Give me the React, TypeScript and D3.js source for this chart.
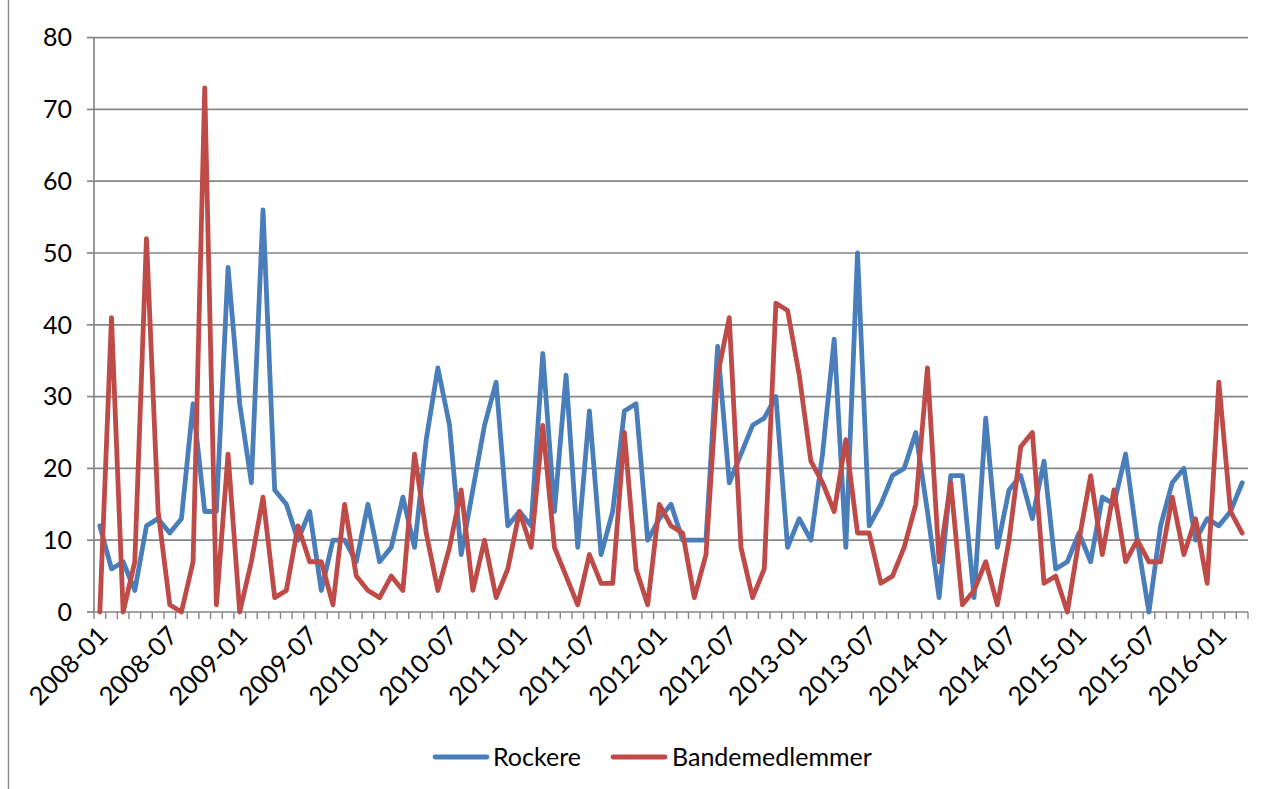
import React, { useEffect, useRef } from 'react';
import * as d3 from 'd3';

// monthly categories 2008-01 .. 2016-03
const months: string[] = d3
  .timeMonths(new Date(2008, 0, 1), new Date(2016, 3, 1))
  .map(d3.timeFormat('%Y-%m'));

const tickLabels = [
  '2008-01', '2008-07', '2009-01', '2009-07', '2010-01', '2010-07', '2011-01', '2011-07', '2012-01',
  '2012-07', '2013-01', '2013-07', '2014-01', '2014-07', '2015-01', '2015-07', '2016-01',
];

const yTicks = [0, 10, 20, 30, 40, 50, 60, 70, 80];

const rockere = [
  12, 6, 7, 3, 12, 13, 11, 13, 29, 14, 14, 48, 29, 18, 56, 17, 15, 10, 14, 3,
  10, 10, 7, 15, 7, 9, 16, 9, 24, 34, 26, 8, 17, 26, 32, 12, 14, 12, 36, 14,
  33, 9, 28, 8, 14, 28, 29, 10, 13, 15, 10, 10, 10, 37, 18, 22, 26, 27, 30, 9,
  13, 10, 22, 38, 9, 50, 12, 15, 19, 20, 25, 14, 2, 19, 19, 2, 27, 9, 17, 19,
  13, 21, 6, 7, 11, 7, 16, 15, 22, 10, 0, 12, 18, 20, 10, 13, 12, 14, 18,
];

const bandemedlemmer = [
  0, 41, 0, 7, 52, 14, 1, 0, 7, 73, 1, 22, 0, 7, 16, 2, 3, 12, 7, 7,
  1, 15, 5, 3, 2, 5, 3, 22, 11, 3, 9, 17, 3, 10, 2, 6, 14, 9, 26, 9,
  5, 1, 8, 4, 4, 25, 6, 1, 15, 12, 11, 2, 8, 33, 41, 9, 2, 6, 43, 42,
  33, 21, 18, 14, 24, 11, 11, 4, 5, 9, 15, 34, 7, 18, 1, 3, 7, 1, 10, 23,
  25, 4, 5, 0, 10, 19, 8, 17, 7, 10, 7, 7, 16, 8, 13, 4, 32, 14, 11,
];

const series = [
  { name: 'Rockere', values: rockere, color: '#4a7ebb' },
  { name: 'Bandemedlemmer', values: bandemedlemmer, color: '#be4b48' },
];

const FONT = 'Lato, "Noto Sans", sans-serif';

const App: React.FC = () => {
  const ref = useRef<SVGSVGElement>(null);

  useEffect(() => {
    const svg = d3.select(ref.current);
    svg.selectAll('*').remove();

    const left = 94, right = 1248, top = 37.6, bottom = 612;

    const x = d3.scaleBand<string>().domain(months).range([left, right]);
    const y = d3.scaleLinear().domain([0, 80]).range([bottom, top]);
    const cx = (i: number) => (x(months[i]) as number) + x.bandwidth() / 2;

    // outer frame (left edge visible)
    svg.append('line')
      .attr('x1', 8.5).attr('x2', 8.5).attr('y1', 0).attr('y2', 789)
      .attr('stroke', '#8c8c8c').attr('stroke-width', 1.5);

    // gridlines
    svg.append('g').selectAll('line')
      .data(yTicks.filter((t) => t > 0))
      .enter().append('line')
      .attr('x1', left).attr('x2', right)
      .attr('y1', (d) => y(d)).attr('y2', (d) => y(d))
      .attr('stroke', '#868686').attr('stroke-width', 1.7);

    // y axis
    const ya = svg.append('g');
    ya.append('line')
      .attr('x1', left).attr('x2', left).attr('y1', top).attr('y2', bottom)
      .attr('stroke', '#868686').attr('stroke-width', 1.7);
    ya.selectAll('line.tick')
      .data(yTicks)
      .enter().append('line')
      .attr('class', 'tick')
      .attr('x1', left - 7).attr('x2', left)
      .attr('y1', (d) => y(d)).attr('y2', (d) => y(d))
      .attr('stroke', '#868686').attr('stroke-width', 1.7);
    ya.selectAll('text')
      .data(yTicks)
      .enter().append('text')
      .attr('x', 72).attr('y', (d) => y(d))
      .attr('dy', '0.35em')
      .attr('text-anchor', 'end')
      .attr('font-family', FONT).attr('font-size', 25)
      .attr('fill', '#000')
      .text((d) => d);

    // x axis
    const xa = svg.append('g');
    xa.append('line')
      .attr('x1', left).attr('x2', right).attr('y1', bottom).attr('y2', bottom)
      .attr('stroke', '#868686').attr('stroke-width', 1.7);
    xa.selectAll('line.tick')
      .data(d3.range(months.length + 1))
      .enter().append('line')
      .attr('class', 'tick')
      .attr('x1', (i) => left + i * x.bandwidth()).attr('x2', (i) => left + i * x.bandwidth())
      .attr('y1', bottom).attr('y2', bottom + 7)
      .attr('stroke', '#868686').attr('stroke-width', 1.4);
    xa.selectAll('text')
      .data(tickLabels)
      .enter().append('text')
      .attr('transform', (d) => {
        const px = cx(months.indexOf(d)) + 3;
        const py = bottom + 19;
        return `translate(${px},${py}) rotate(-45)`;
      })
      .attr('text-anchor', 'end')
      .attr('dy', '0.35em')
      .attr('font-family', FONT).attr('font-size', 25.5)
      .attr('fill', '#000')
      .text((d) => d);

    // lines
    const line = d3.line<number>()
      .x((_, i) => cx(i))
      .y((d) => y(d));

    svg.append('g').selectAll('path')
      .data(series)
      .enter().append('path')
      .attr('d', (s) => line(s.values))
      .attr('fill', 'none')
      .attr('stroke', (s) => s.color)
      .attr('stroke-width', 4.8)
      .attr('stroke-linejoin', 'round')
      .attr('stroke-linecap', 'round');

    // legend
    const legendItems = [
      { s: series[0], x0: 435, tx: 493 },
      { s: series[1], x0: 613, tx: 672 },
    ];
    const lg = svg.append('g');
    legendItems.forEach(({ s, x0, tx }) => {
      lg.append('line')
        .attr('x1', x0).attr('x2', x0 + 52).attr('y1', 757).attr('y2', 757)
        .attr('stroke', s.color).attr('stroke-width', 4.8).attr('stroke-linecap', 'round');
      lg.append('text')
        .attr('x', tx).attr('y', 757).attr('dy', '0.35em')
        .attr('font-family', FONT).attr('font-size', 25)
        .attr('fill', '#000')
        .text(s.name);
    });
  }, []);

  return (
    <svg
      ref={ref}
      width={1282}
      height={789}
      style={{ position: 'absolute', left: 0, top: 0, background: '#fff' }}
    />
  );
};

export default App;
